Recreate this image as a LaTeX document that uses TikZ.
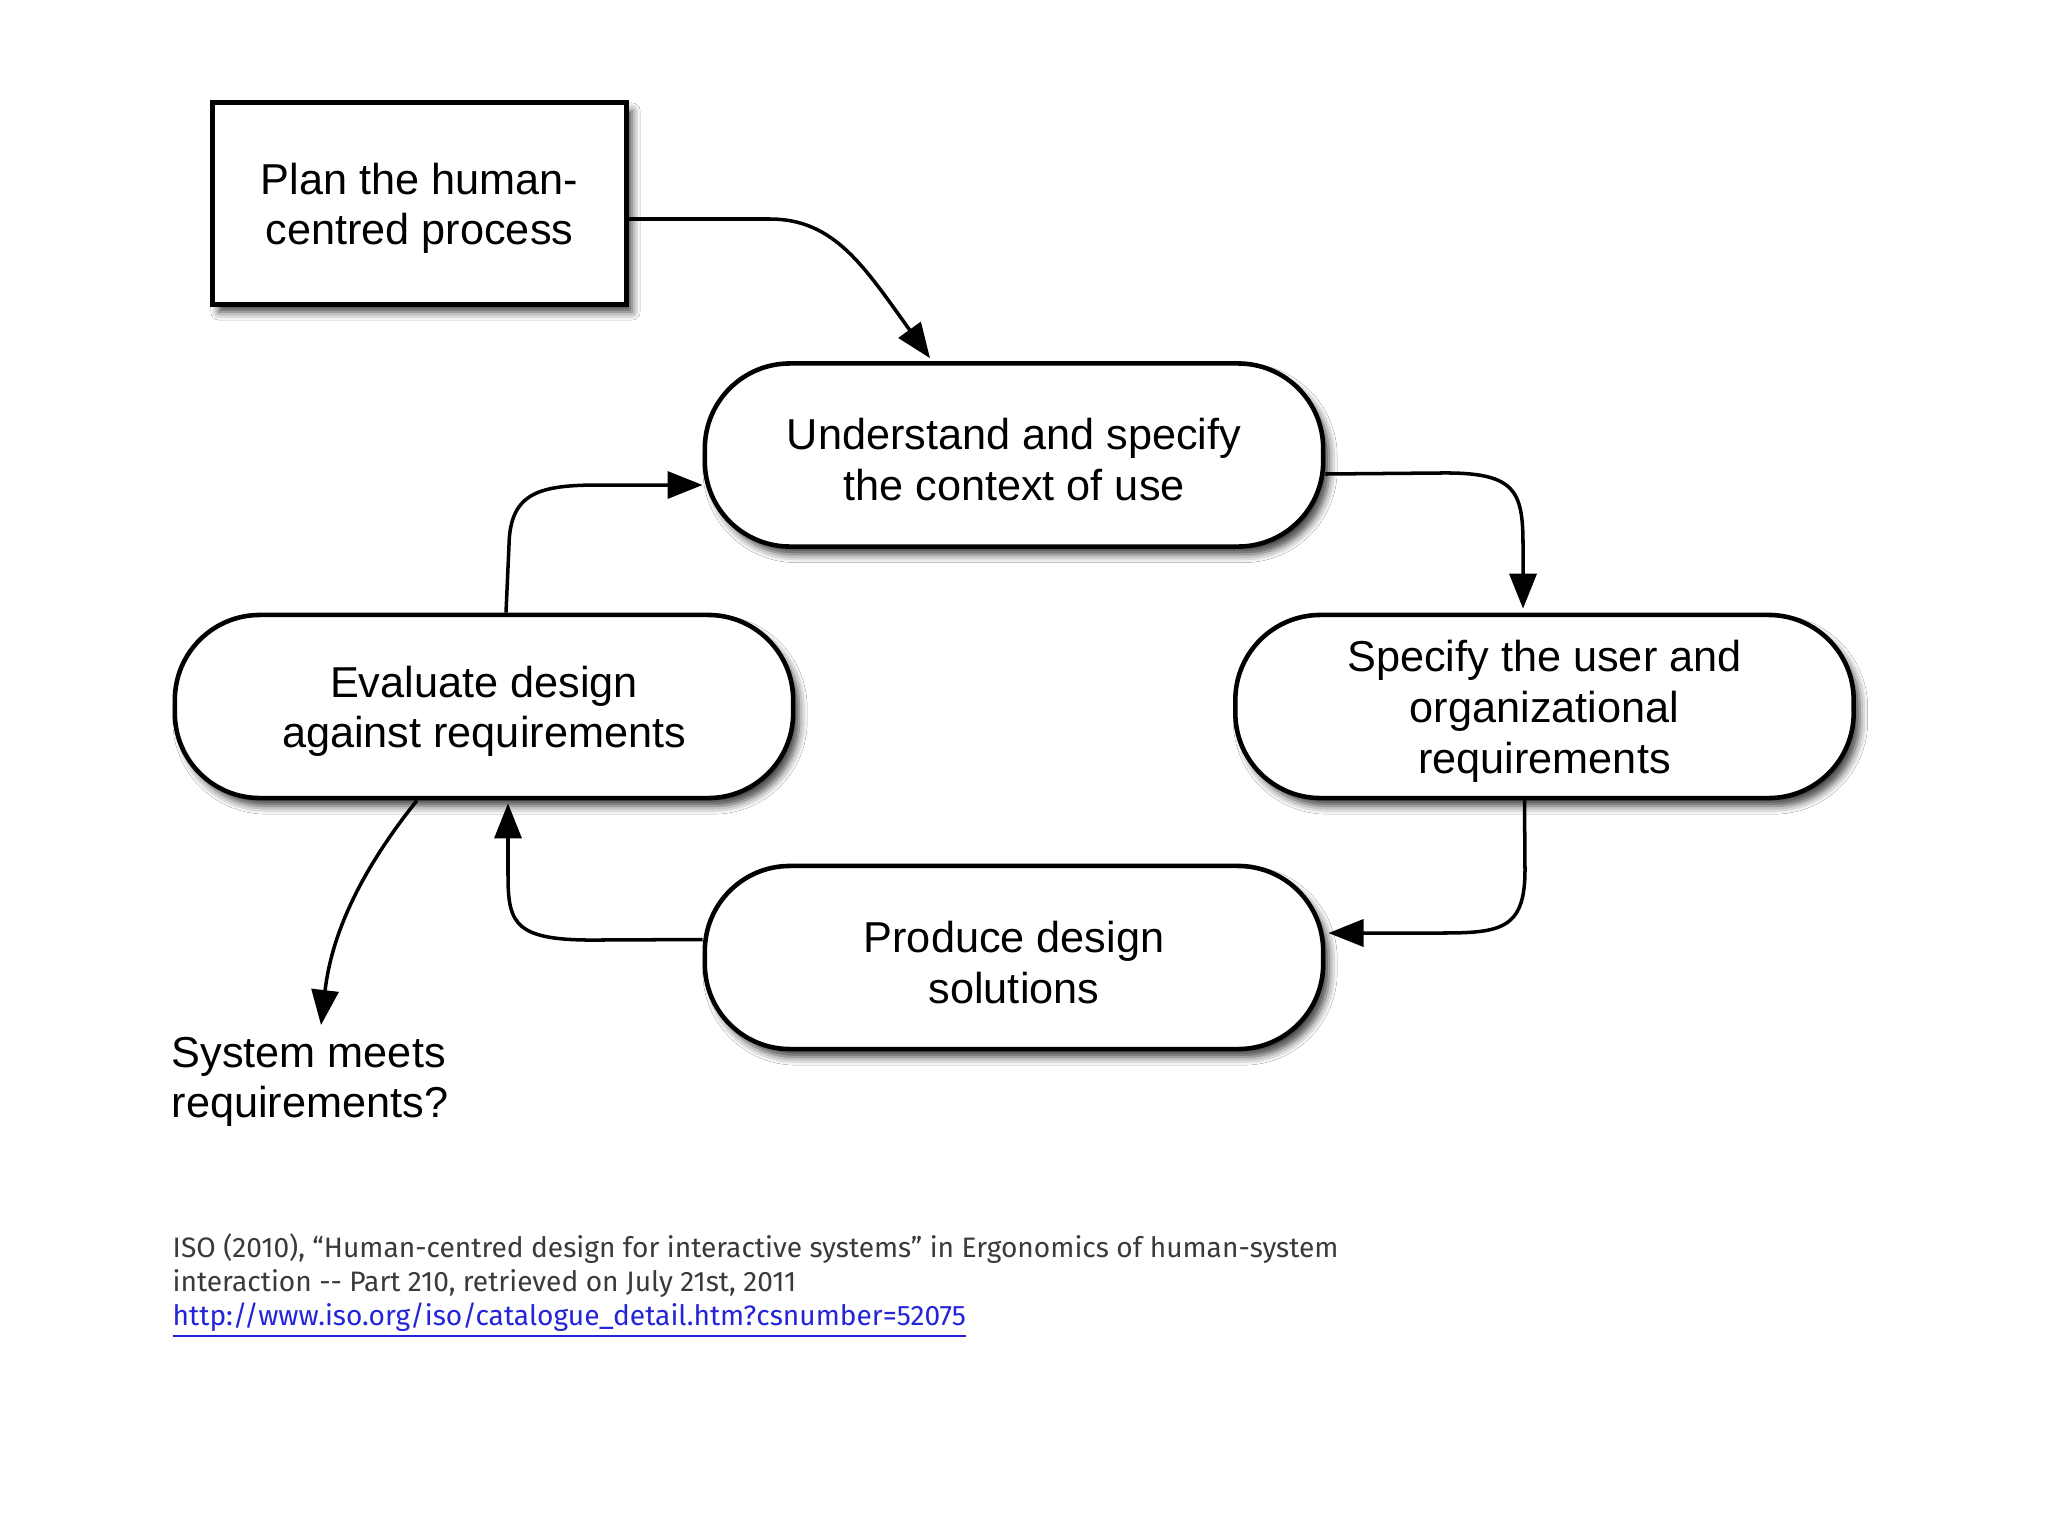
\documentclass[tikz,border=0pt]{standalone}
\usepackage{fontspec}
\setmainfont{Liberation Sans}
\newfontfamily\citefont{Fira Sans}
\usetikzlibrary{arrows.meta,shadows.blur,calc}
\newcommand\dgfont{\fontsize{12.3pt}{14.4pt}\selectfont}
\newcommand\ctfont{\citefont\fontsize{8pt}{9.6pt}\selectfont}
\newcommand\toprule{\rule{0pt}{11.6pt}}
\definecolor{citegray}{HTML}{3A3A3A}
\definecolor{linkblue}{HTML}{2424D8}
\begin{document}
\begin{tikzpicture}[x=0.01cm,y=-0.01cm,
  shad/.style={blur shadow={shadow xshift=0.06cm, shadow yshift=-0.08cm, shadow blur radius=0.08cm, shadow opacity=75}},
  pill/.style={shad, draw, line width=1.3pt, fill=white, rounded corners=0.85cm,
    minimum width=6.18cm, minimum height=1.83cm, align=center, inner sep=0pt, font=\dgfont},
  planbox/.style={shad, draw, line width=1.4pt, fill=white,
    minimum width=4.13cm, minimum height=2.01cm, align=center, inner sep=0pt, font=\dgfont},
  conn/.style={line width=1pt, -{Triangle[length=0.35cm, width=0.27cm]}},
  cite/.style={anchor=base west, inner sep=0pt, font=\ctfont, text=citegray}
]
\fill[white] (0,0) rectangle (2048,1536);
\useasboundingbox (0,0) rectangle (2048,1536);

\node[planbox] (plan) at (419.5,203.5) {\toprule Plan the human-\\centred process};
\node[pill] (und) at (1014,455) {\toprule Understand and specify\\the context of use};
\node[pill] (spec) at (1544.5,706.5) {\toprule Specify the user and\\organizational\\requirements};
\node[pill] (eval) at (484,706.5) {\toprule Evaluate design\\against requirements};
\node[pill] (prod) at (1014,957.5) {\toprule Produce design\\solutions};
\node[anchor=west, align=left, inner sep=0pt, font=\dgfont] (sys) at (171,1082) {System meets\\requirements?};
\coordinate (sysin) at (321,1025);

% connectors
\draw[conn] ($(plan.east)+(0,15.5)$) -- (770,219) .. controls (835,219) and (865,268) .. ($(und.north)+(-84,-3)$);
\draw[conn] ($(und.east)+(0,19)$) -- (1440,473) .. controls (1515,472) and (1523,490) .. (1523,545) -- ($(spec.north)+(-21.5,-4)$);
\draw[conn] ($(spec.south)+(-20,0)$) -- (1525,870) .. controls (1525,930) and (1500,933) .. (1440,933) -- ($(prod.east)+(3,-24.5)$);
\draw[conn] ($(prod.west)+(0,-18)$) -- (600,940) .. controls (515,941) and (508,925) .. (508,875) -- ($(eval.south)+(24,3)$);
\draw[conn] ($(eval.north)+(22,0)$) -- (509,545) .. controls (510,492) and (540,485) .. (600,485) -- ($(und.west)+(0,30)$);
\draw[conn] ($(eval.south)+(-67,0)$) .. controls (355,878) and (331,940) .. (sysin);

% citation
\node[cite] (cite1) at (172,1257) {ISO (2010), “Human-centred design for interactive systems” in Ergonomics of human-system};
\node[cite] (cite2) at (172,1291) {interaction -{}- Part 210, retrieved on July 21st, 2011};
\node[cite, text=linkblue] (cite3) at (172,1325) {\underline{http://www.iso.org/iso/catalogue\_detail.htm?csnumber=52075}};
\end{tikzpicture}
\end{document}
